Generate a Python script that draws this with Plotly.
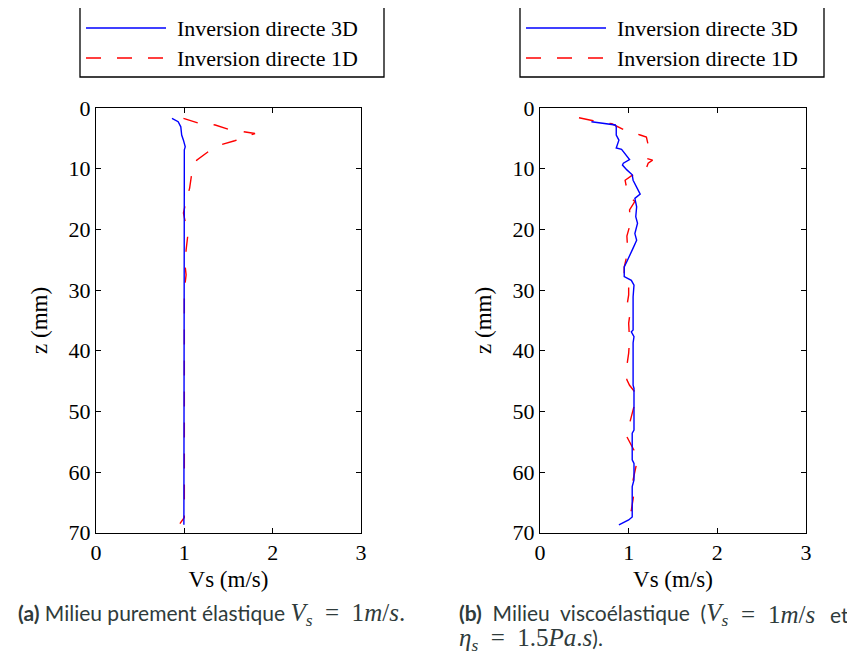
import plotly.graph_objects as go

# ---------------- data ----------------
# (a) purely elastic medium
a_z_3d = [1.7, 2.26, 3.1, 4.45, 5.3, 6.4, 6.9, 10, 20, 30, 40, 50, 60, 68.7]
a_v_3d = [0.86, 0.93, 0.96, 0.97, 0.99, 1.01, 1.0, 1.0, 0.995, 0.995, 0.995, 0.995, 0.995, 0.995]

a_z_1d = [1.7, 2.5, 2.8, 3.5, 4.0, 4.2, 5.4, 6.1, 7.0, 8.6, 11.2, 13.2, 16.0, 17.3,
          20.9, 23.4, 26.2, 27.5, 30, 40, 50, 60, 67.5, 68.5]
a_v_1d = [0.99, 1.16, 1.35, 1.50, 1.71, 1.80, 1.57, 1.40, 1.29, 1.14, 1.08, 1.06, 1.01, 0.99,
          1.04, 1.02, 1.01, 1.02, 1.0, 1.0, 1.0, 1.0, 1.0, 0.95]

# (b) viscoelastic medium
b_z_3d = [2.26, 2.8, 3.1, 4.45, 5.3, 6.6, 6.8, 8.5, 9.1, 9.4, 10.2, 11.0, 11.9, 14.2,
          14.9, 16.3, 17.9, 19.0, 20.7, 21.8, 23.1, 24.5, 25.3, 26.2, 27.8, 28.4, 29.2,
          31.1, 36.6, 36.9, 37.7, 38.7, 45.7, 46.2, 53.1, 53.6, 58.0, 58.6, 61.3, 62.4,
          67.4, 67.9, 68.7]
b_v_3d = [0.58, 0.85, 0.86, 0.86, 0.89, 0.86, 0.92, 1.01, 0.94, 0.93, 0.98, 1.04, 1.05, 1.13,
          1.07, 1.09, 1.08, 1.10, 1.07, 1.09, 1.05, 1.01, 0.98, 0.95, 0.95, 1.03, 1.06,
          1.05, 1.05, 1.03, 1.06, 1.05, 1.05, 1.06, 1.06, 1.04, 1.04, 1.06, 1.06, 1.04,
          1.04, 1.00, 0.89]

b_z_1d = [1.6, 2.1, 2.6, 3.0, 3.6, 4.45, 4.8, 6.1, 8.3, 8.6, 9.1, 9.9, 11.2, 11.9, 12.7,
          14.9, 15.4, 16.8, 19.0, 21.1, 23.7, 26.2, 28.8, 29.5, 30.8, 33.6, 34.4, 35.5,
          38.2, 40.4, 43.5, 44.8, 45.7, 47.0, 49.2, 52.0, 54.2, 56.4, 58.6, 61.3, 63.5,
          66.3, 67.9]
b_v_1d = [0.44, 0.60, 0.81, 0.86, 0.95, 1.13, 1.20, 1.22, 1.20, 1.27, 1.22, 1.20, 1.03, 0.96, 0.97,
          1.03, 1.07, 1.01, 1.02, 0.98, 0.99, 0.95, 0.95, 1.00, 1.00, 0.97, 1.01, 1.00,
          1.01, 1.00, 0.97, 0.98, 1.01, 1.08, 1.06, 1.01, 0.98, 1.06, 1.09, 1.05, 1.06,
          1.03, 0.99]

x_ticks = [0, 1, 2, 3]
z_ticks = [0, 10, 20, 30, 40, 50, 60, 70]
legend_names = ["Inversion directe 3D", "Inversion directe 1D"]

# ---------------- figure ----------------
OFF = 8                      # the page body margin
W, H = 855 - OFF, 655 - OFF
SERIF = "Liberation Serif, Times New Roman, serif"
BLUE = "#0000ff"
RED = "#ff0000"
DASH = "15px,16px"

def px(x):
    return (x - OFF) / W

def py(y):
    return 1 - (y - OFF) / H

fig = go.Figure()
for xa, ya, z1, v1, z3, v3 in [("x", "y", a_z_1d, a_v_1d, a_z_3d, a_v_3d),
                               ("x2", "y2", b_z_1d, b_v_1d, b_z_3d, b_v_3d)]:
    fig.add_trace(go.Scatter(x=v1, y=z1, mode="lines", xaxis=xa, yaxis=ya,
                             name=legend_names[1], showlegend=False,
                             line=dict(color=RED, width=1.4, dash=DASH)))
    fig.add_trace(go.Scatter(x=v3, y=z3, mode="lines", xaxis=xa, yaxis=ya,
                             name=legend_names[0], showlegend=False,
                             line=dict(color=BLUE, width=1.4)))

axis_common = dict(showline=True, linecolor="black", linewidth=1.3, mirror="ticks",
                   ticks="inside", ticklen=5, tickcolor="black", tickwidth=1,
                   showgrid=False, zeroline=False, automargin=False,
                   tickfont=dict(family=SERIF, size=22, color="black"))

xdom1 = [px(96), px(361)]
xdom2 = [px(540), px(806)]
ydom = [py(532.7), py(108)]

for i, dom in [("", xdom1), ("2", xdom2)]:
    fig.update_layout(**{
        "xaxis" + i: dict(domain=dom, range=[0, 3], tickvals=x_ticks,
                          anchor="y" + i,
                          title=dict(text="Vs (m/s)", font=dict(family=SERIF, size=23, color="black"),
                                     standoff=6),
                          **axis_common),
        "yaxis" + i: dict(domain=ydom, range=[70, 0], tickvals=z_ticks,
                          anchor="x" + i,
                          title=dict(text="z (mm)", font=dict(family=SERIF, size=23, color="black"),
                                     standoff=14),
                          **axis_common),
    })

# legends (boxed, drawn above each panel)
shapes = []
annotations = []
for cx in [232, 672]:
    left = cx - 152
    right = cx + 152
    shapes.append(dict(type="rect", xref="paper", yref="paper",
                       x0=px(left), x1=px(right), y0=py(77), y1=py(7),
                       line=dict(color="black", width=1.3), fillcolor="white"))
    for row, (name, color, dash) in enumerate([(legend_names[0], BLUE, "solid"),
                                               (legend_names[1], RED, DASH)]):
        yc = 28 + 30 * row
        shapes.append(dict(type="line", xref="paper", yref="paper",
                           x0=px(left + 6), x1=px(left + 86), y0=py(yc), y1=py(yc),
                           line=dict(color=color, width=1.4, dash=dash)))
        annotations.append(dict(xref="paper", yref="paper", x=px(left + 95), y=py(yc),
                                xanchor="left", yanchor="middle", showarrow=False,
                                text=name, font=dict(family=SERIF, size=22, color="black")))

CAP = "Lato, Open Sans, sans-serif"
CAPC = "#2f3b3b"
CS = 21
M = "<span style=\"font-family:Liberation Serif;font-size:25px\">"
SP = "&nbsp;"

def cap(x, y, text, anchor="left"):
    annotations.append(dict(xref="paper", yref="paper", x=px(x), y=py(y),
                            xanchor=anchor, yanchor="middle", showarrow=False,
                            font=dict(family=CAP, size=CS, color=CAPC), text=text))

cap(16, 614, "<b>(a)</b> Milieu purement élastique " + M +
    "<i>V<sub>s</sub></i>" + SP * 2 + "=" + SP * 2 + "1<i>m</i>/<i>s</i>.</span>")
cap(457, 614, "<b>(b)</b>" + SP * 2 + "Milieu" + SP * 2 + "viscoélastique" + SP * 2 + "(" + M +
    "<i>V<sub>s</sub></i></span>")
cap(748, 614, M + "=</span>", anchor="center")
cap(766, 614, M + "1<i>m</i>/<i>s</i></span>")
cap(851, 614, "et", anchor="right")
cap(457, 639, M + "<i>η<sub>s</sub></i>" + SP * 2 + "=" + SP * 2 + "1.5<i>Pa</i>.<i>s</i></span>).")

fig.update_layout(width=W, height=H, margin=dict(l=0, r=0, t=0, b=0),
                  paper_bgcolor="white", plot_bgcolor="white",
                  showlegend=False, shapes=shapes, annotations=annotations)

fig.write_html("out.html")
